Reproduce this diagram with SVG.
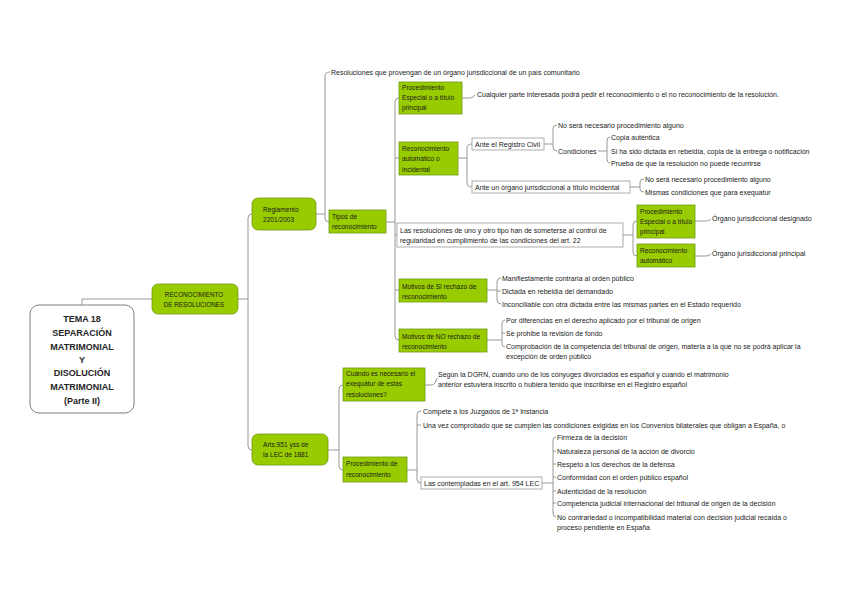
<svg xmlns="http://www.w3.org/2000/svg" width="848" height="599" viewBox="0 0 848 599">
<style>
.bg{fill:#ffffff}
.c{fill:none;stroke:#8c8c8c;stroke-width:0.9}
.g{fill:#99cc00;stroke:#6f9a10;stroke-width:0.8}
.w{fill:#ffffff;stroke:#9a9a9a;stroke-width:0.8}
.m{fill:#ffffff;stroke:#7f7f7f;stroke-width:1}
text{font-family:"Liberation Sans",Arial,sans-serif;fill:#1a1a1a}
.t{font-size:7px}
.k{font-size:6.6px}
.b{font-size:6.3px}
.h{font-size:9px;font-weight:bold;text-anchor:middle;fill:#262626}
.ct{text-anchor:middle}
</style>
<rect class="bg" x="0" y="0" width="848" height="599"/>
<g id="connectors">
<path class="c" d="M82 305 L82 299 L152 299"/>
<path class="c" d="M238 299 L248 299 M252 214 Q248 214 248 218 L248 446 Q248 450 252 450"/>
<path class="c" d="M316 214 L325 214 M330 72 Q325 72 325 76 L325 218 Q325 222 329 222"/>
<path class="c" d="M386 222 L395 222 M399 98 Q395 98 395 102 L395 336 Q395 340 399 340 M395 158 L399 158 M395 235 L397 235 M395 290 L399 290"/>
<path class="c" d="M462 98 L470 98 Q473 98 475 95"/>
<path class="c" d="M458 158 L467 158 M472 144 Q467 144 467 148 L467 183 Q467 187 472 187"/>
<path class="c" d="M544 144 L553 144 M557 125 Q553 125 553 129 L553 147 Q553 151 557 151"/>
<path class="c" d="M598 151 L607 151 M610 137 Q607 137 607 141 L607 159 Q607 163 610 163"/>
<path class="c" d="M630 187 L640 187 M644 179 Q640 179 640 182 L640 189 Q640 192 644 192"/>
<path class="c" d="M623 235 L633 235 M637 221 Q633 221 633 225 L633 252 Q633 256 637 256"/>
<path class="c" d="M695 221 L706 221 Q709 221 711 219 M695 256 L706 256 Q709 256 711 254"/>
<path class="c" d="M487 290 L497 290 M501 278 Q497 278 497 282 L497 300 Q497 304 501 304 M497 291 L501 291"/>
<path class="c" d="M487 340 L502 340 M505 320 Q502 320 502 324 L502 343 Q502 347 505 347 M502 333 L505 333"/>
<path class="c" d="M328 450 L339 450 M343 385 Q339 385 339 389 L339 466 Q339 470 343 470"/>
<path class="c" d="M425 385 L432 385 Q435 385 437 378"/>
<path class="c" d="M407 470 L417 470 M421 411 Q417 411 417 415 L417 479 Q417 483 421 483 M417 425 L421 425"/>
<path class="c" d="M542 483 L553 483 M556 437 Q553 437 553 441 L553 513 Q553 517 556 517 M553 451 L556 451 M553 464 L556 464 M553 477 L556 477 M553 491 L556 491 M553 503 L556 503"/>
</g>
<g id="n-tema">
<rect class="m" x="30" y="305" width="104" height="108" rx="9"/>
<text class="h" x="82" y="322">TEMA 18</text>
<text class="h" x="82" y="336">SEPARACIÓN</text>
<text class="h" x="82" y="349.5">MATRIMONIAL</text>
<text class="h" x="82" y="362.5">Y</text>
<text class="h" x="82" y="376">DISOLUCIÓN</text>
<text class="h" x="82" y="389.5">MATRIMONIAL</text>
<text class="h" x="82" y="403.5">(Parte II)</text>
</g>
<g id="n-reconocimiento">
<rect class="g" x="152" y="284" width="86" height="30" rx="6"/>
<text class="b ct" x="194" y="296.5">RECONOCIMIENTO</text>
<text class="b ct" x="194" y="306.5">DE RESOLUCIONES</text>
</g>
<g id="n-reglamento">
<rect class="g" x="252" y="198" width="64" height="32" rx="6"/>
<text class="k" x="263" y="211.5">Reglamento</text>
<text class="k" x="263" y="221.5">2201/2003</text>
</g>
<g id="n-arts">
<rect class="g" x="252" y="434" width="76" height="31" rx="6"/>
<text class="k" x="263" y="446.5">Arts.951 yss de</text>
<text class="k" x="263" y="456.5">la LEC de 1881</text>
</g>
<g id="n-resol-comunitario">
<text class="t" x="331" y="74.5">Resoluciones que provengan de un órgano jurisdiccional de un país comunitario</text>
</g>
<g id="n-tipos">
<rect class="g" x="329" y="210" width="57" height="23"/>
<text class="k" x="332" y="218.5">Tipos de</text>
<text class="k" x="332" y="228.5">reconocimiento</text>
</g>
<g id="n-proc-esp">
<rect class="g" x="399" y="82" width="63" height="32"/>
<text class="k" x="402" y="89.5">Procedimiento</text>
<text class="k" x="402" y="99.5">Especial o a título</text>
<text class="k" x="402" y="109.5">principal</text>
</g>
<g id="n-cualquier">
<text class="t" x="477" y="96.5">Cualquier parte interesada podrá pedir el reconocimiento o el no reconocimiento de la resolución.</text>
</g>
<g id="n-rec-auto">
<rect class="g" x="399" y="142" width="59" height="33"/>
<text class="k" x="402" y="150.5">Reconocimiento</text>
<text class="k" x="402" y="161">automático o</text>
<text class="k" x="402" y="171.5">incidental</text>
</g>
<g id="n-registro">
<rect class="w" x="472" y="138" width="72" height="12"/>
<text class="t" x="475" y="146.5">Ante el Registro Civil</text>
</g>
<g id="n-reg-leaves">
<text class="t" x="558" y="127.5">No será necesario procedimiento alguno</text>
<text class="t" x="558" y="153.5">Condiciones</text>
<text class="t" x="611" y="139.5">Copia auténtica</text>
<text class="t" x="611" y="153.5">Si ha sido dictada en rebeldía, copia de la entrega o notificación</text>
<text class="t" x="611" y="165.5">Prueba de que la resolución no puede recurrirse</text>
</g>
<g id="n-organo">
<rect class="w" x="472" y="181" width="158" height="12"/>
<text class="t" x="475" y="189.5">Ante un órgano jurisdiccional a título incidental</text>
<text class="t" x="645" y="181.5">No será necesario procedimiento alguno</text>
<text class="t" x="645" y="194.5">Mismas condiciones que para exequatur</text>
</g>
<g id="n-control">
<rect class="w" x="397" y="223" width="226" height="24"/>
<text class="t" x="400" y="232.5">Las resoluciones de uno y otro tipo han de someterse al control de</text>
<text class="t" x="400" y="242.5">regularidad en cumplimiento de las condiciones del art. 22</text>
</g>
<g id="n-proc-esp2">
<rect class="g" x="637" y="205" width="58" height="33"/>
<text class="k" x="640" y="213.5">Procedimiento</text>
<text class="k" x="640" y="223.5">Especial o a título</text>
<text class="k" x="640" y="233.5">principal</text>
<text class="t" x="712" y="221">Órgano jurisdiccional designado</text>
</g>
<g id="n-rec-auto2">
<rect class="g" x="637" y="244" width="58" height="23"/>
<text class="k" x="640" y="252.5">Reconocimiento</text>
<text class="k" x="640" y="263">automático</text>
<text class="t" x="712" y="256">Órgano jurisdiccional principal</text>
</g>
<g id="n-motivos-si">
<rect class="g" x="399" y="279" width="88" height="23"/>
<text class="k" x="402" y="288.5">Motivos de SI rechazo de</text>
<text class="k" x="402" y="299">reconocimiento</text>
<text class="t" x="502" y="280.5">Manifiestamente contraria al orden público</text>
<text class="t" x="502" y="293.5">Dictada en rebeldía del demandado</text>
<text class="t" x="502" y="306.5">Inconciliable con otra dictada entre las mismas partes en el Estado requerido</text>
</g>
<g id="n-motivos-no">
<rect class="g" x="399" y="329" width="88" height="23"/>
<text class="k" x="402" y="338.5">Motivos de NO rechazo de</text>
<text class="k" x="402" y="349">reconocimiento</text>
<text class="t" x="506" y="322.5">Por diferencias en el derecho aplicado por el tribunal de origen</text>
<text class="t" x="506" y="335.5">Se prohibe la revisión de fondo</text>
<text class="t" x="506" y="348.5">Comprobación de la competencia del tribunal de origen, materia a la que no se podrá aplicar la</text>
<text class="t" x="506" y="358.5">excepción de orden público</text>
</g>
<g id="n-cuando">
<rect class="g" x="343" y="368" width="82" height="33"/>
<text class="k" x="346" y="376">Cuándo es necesario el</text>
<text class="k" x="346" y="386">exequátur de estas</text>
<text class="k" x="346" y="396.5">resoluciones?</text>
<text class="t" x="438" y="377">Según la DGRN, cuando uno de los cónyuges divorciados es español y cuando el matrimonio</text>
<text class="t" x="438" y="386.5">anterior estuviera inscrito o hubiera tenido que inscribirse en el Registro español</text>
</g>
<g id="n-proc-rec">
<rect class="g" x="343" y="457" width="64" height="25"/>
<text class="k" x="346" y="465.5">Procedimiento de</text>
<text class="k" x="346" y="476.5">reconocimiento</text>
<text class="t" x="423" y="413.5">Compete a los Juzgados de 1ª Instancia</text>
<text class="t" x="423" y="427.5">Una vez comprobado que se cumplen las condiciones exigidas en los Convenios bilaterales que obligan a España, o</text>
</g>
<g id="n-contempladas">
<rect class="w" x="421" y="477" width="121" height="12"/>
<text class="t" x="424" y="485.5">Las contempladas en el art. 954 LEC</text>
<text class="t" x="557" y="439.5">Firmeza de la decisión</text>
<text class="t" x="557" y="453.5">Naturaleza personal de la acción de divorcio</text>
<text class="t" x="557" y="466.5">Respeto a los derechos de la defensa</text>
<text class="t" x="557" y="479.5">Conformidad con el orden público español</text>
<text class="t" x="557" y="493.5">Autenticidad de la resolución</text>
<text class="t" x="557" y="505.5">Competencia judicial internacional del tribunal de origen de la decisión</text>
<text class="t" x="557" y="519.5">No contrariedad o incompatibilidad material con decisión judicial recaída o</text>
<text class="t" x="557" y="529.5">proceso pendiente en España</text>
</g>
</svg>
